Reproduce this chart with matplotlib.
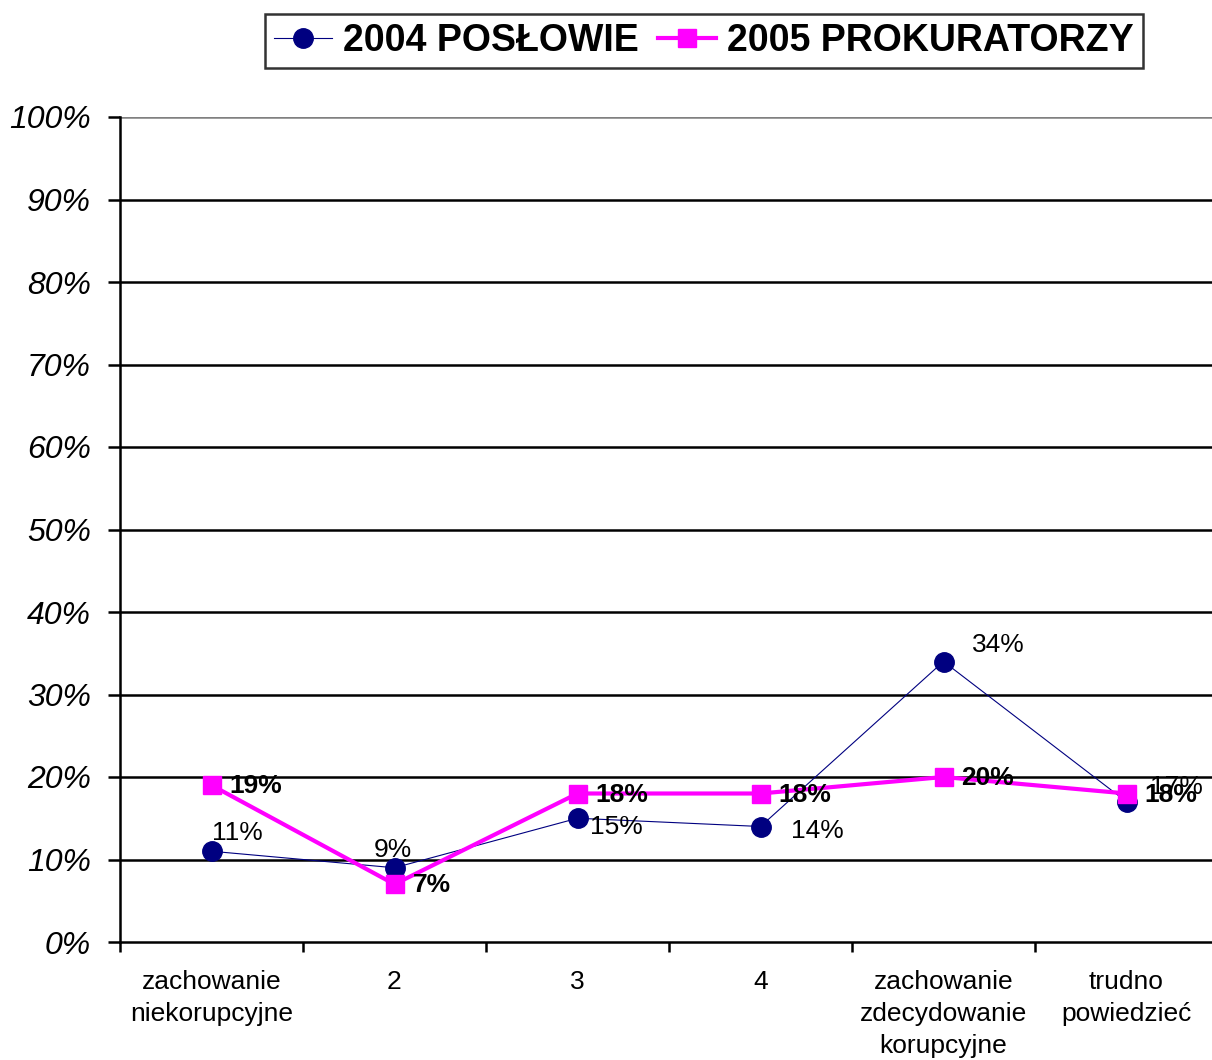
import matplotlib
matplotlib.use("Agg")
import matplotlib.pyplot as plt
import numpy as np

categories = ["zachowanie\nniekorupcyjne", "2", "3", "4",
              "zachowanie\nzdecydowanie\nkorupcyjne", "trudno\npowiedzieć"]
posl_2004 = [11, 9, 15, 14, 34, 17]
prok_2005 = [19, 7, 18, 18, 20, 18]
yticks = [0, 10, 20, 30, 40, 50, 60, 70, 80, 90, 100]

plt.rcParams['font.family'] = ['Liberation Sans', 'DejaVu Sans']

W, H = 1212, 1060
fig = plt.figure(figsize=(W / 100, H / 100), dpi=100)
ax = fig.add_axes([120 / W, (H - 942) / H, 1098 / W, 825 / H])

x = np.arange(len(categories))
navy = "#000080"
mag = "#FF00FF"

ax.set_xlim(-0.5, len(categories) - 0.5)
ax.set_ylim(0, 100)

for v in yticks[1:]:
    ax.axhline(v, color="#808080" if v == 100 else "black", lw=1.8, zorder=1)

l1, = ax.plot(x, posl_2004, color=navy, lw=0.8, marker="o", markersize=14,
              markerfacecolor=navy, markeredgecolor=navy, zorder=3,
              label="2004 POSŁOWIE")
l2, = ax.plot(x, prok_2005, color=mag, lw=3, marker="s", markersize=13,
              markerfacecolor=mag, markeredgecolor=mag, zorder=4,
              label="2005 PROKURATORZY")

offs1 = [(26, 18), (-2, 18), (39, -9), (57, -4), (55, 16), (50, 15)]
for xi, v, (dx, dy) in zip(x, posl_2004, offs1):
    ax.annotate(f"{v}%", (xi, v), xytext=(dx * 0.72, dy * 0.72),
                textcoords="offset points", ha="center", va="center",
                fontsize=19, color="black", zorder=5)
for xi, v in zip(x, prok_2005):
    ax.annotate(f"{v}%", (xi, v), xytext=(18 * 0.72, -1 * 0.72),
                textcoords="offset points", ha="left", va="center",
                fontsize=19, fontweight="bold", color="black", zorder=5)

ax.set_yticks(yticks)
ax.set_yticklabels([f"{v}%" for v in yticks], fontsize=23, style="italic")
ax.tick_params(axis="y", direction="out", length=9, width=1.8, pad=12)

ax.set_xticks(x)
ax.set_xticklabels(categories, fontsize=19, linespacing=1.42)
ax.set_xticks(np.arange(-0.5, len(categories), 1), minor=True)
ax.tick_params(axis="x", which="major", length=0, pad=20)
ax.tick_params(axis="x", which="minor", direction="out", length=7, width=1.8)

for s in ["top", "right"]:
    ax.spines[s].set_visible(False)
ax.spines["left"].set_linewidth(1.8)
ax.spines["bottom"].set_linewidth(1.8)

leg = fig.legend(handles=[l1, l2], loc="center",
                 bbox_to_anchor=(704 / W, 1 - 41 / H), ncol=2,
                 prop={"size": 27, "weight": "bold"}, frameon=True,
                 fancybox=False, edgecolor="black", handlelength=1.55,
                 handletextpad=0.3, columnspacing=0.5, borderpad=0.25,
                 borderaxespad=0)
leg.get_frame().set_linewidth(1.8)

fig.savefig("out.png", dpi=100)
